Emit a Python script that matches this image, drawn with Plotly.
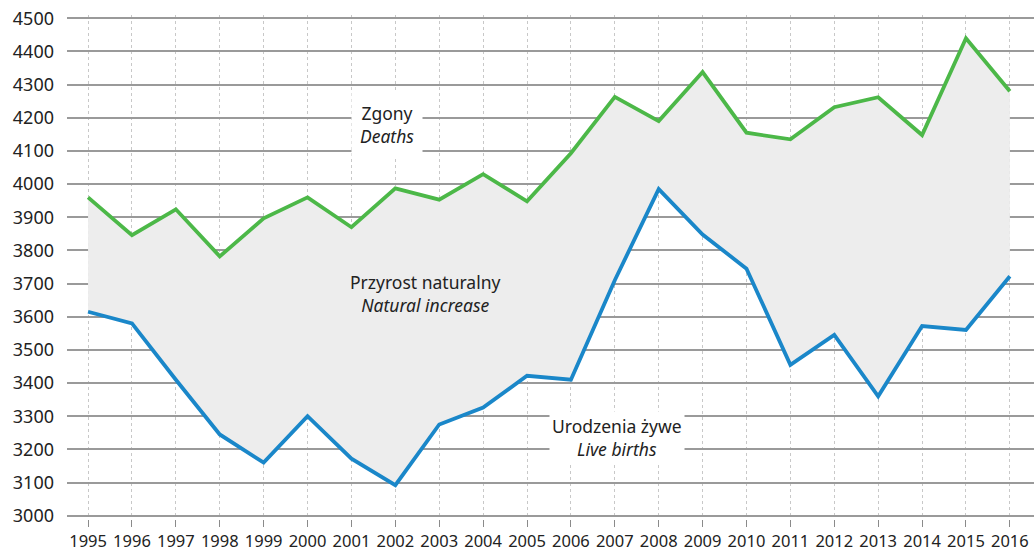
import plotly.graph_objects as go

years = list(range(1995, 2017))
deaths = [3960, 3846, 3924, 3782, 3897, 3960, 3870, 3987, 3953, 4030, 3948,
          4093, 4263, 4190, 4338, 4155, 4135, 4232, 4262, 4148, 4440, 4280]
births = [3615, 3580, 3410, 3245, 3160, 3300, 3172, 3092, 3275, 3326, 3422,
          3410, 3710, 3985, 3848, 3745, 3455, 3545, 3360, 3572, 3560, 3722]
y_ticks = list(range(3000, 4501, 100))

GREEN = "#4cb848"
BLUE = "#1a87c9"
FILL = "#ededed"
FONT = "Noto Sans"
TXT = "#222222"

fig = go.Figure()
# fill area between births and deaths
fig.add_trace(go.Scatter(x=years, y=births, mode="lines", line=dict(width=0),
                         hoverinfo="skip", showlegend=False))
fig.add_trace(go.Scatter(x=years, y=deaths, mode="lines", line=dict(width=0),
                         fill="tonexty", fillcolor=FILL, hoverinfo="skip",
                         showlegend=False))
# lines
fig.add_trace(go.Scatter(x=years, y=births, mode="lines",
                         line=dict(color=BLUE, width=3.8), name="Live births",
                         showlegend=False))
fig.add_trace(go.Scatter(x=years, y=deaths, mode="lines",
                         line=dict(color=GREEN, width=3.8), name="Deaths",
                         showlegend=False))

ann_font = dict(family=FONT, size=17.5, color=TXT)
fig.add_annotation(x=2001.81, y=4181, text="Zgony<br><i>Deaths</i>",
                   showarrow=False, font=ann_font, bgcolor="white",
                   borderpad=8, align="center")
fig.add_annotation(x=2002.68, y=3669, text="Przyrost naturalny<br><i>Natural increase</i>",
                   showarrow=False, font=ann_font, align="center")
fig.add_annotation(x=2007.05, y=3235, text="Urodzenia żywe<br><i>Live births</i>",
                   showarrow=False, font=ann_font, bgcolor="white",
                   borderpad=2, align="center")

fig.update_layout(
    width=1034, height=551,
    margin=dict(l=67, r=0, t=15, b=32, autoexpand=False),
    plot_bgcolor="white", paper_bgcolor="white",
    font=dict(family=FONT, size=17, color=TXT),
    xaxis=dict(range=[1994.52, 2016.55], tickmode="array", tickvals=years,
               ticktext=[str(y) for y in years],
               showgrid=True, gridcolor="#c8c8c8", griddash="dot", gridwidth=1,
               zeroline=False, showline=False,
               ticks="outside", ticklen=7, tickcolor="#8a8a8a", tickwidth=1,
               tickfont=dict(family=FONT, size=16.5, color=TXT)),
    yaxis=dict(range=[2990, 4510], tickmode="array", tickvals=y_ticks,
               showgrid=True, gridcolor="#9a9a9a", gridwidth=1.5,
               zeroline=False, showline=False, ticks="", ticklabelstandoff=12,
               tickfont=dict(family=FONT, size=18, color=TXT)),
    hovermode=False,
)

fig.write_html("out.html", config={"displayModeBar": False},
               post_script="document.body.style.margin='0';")
